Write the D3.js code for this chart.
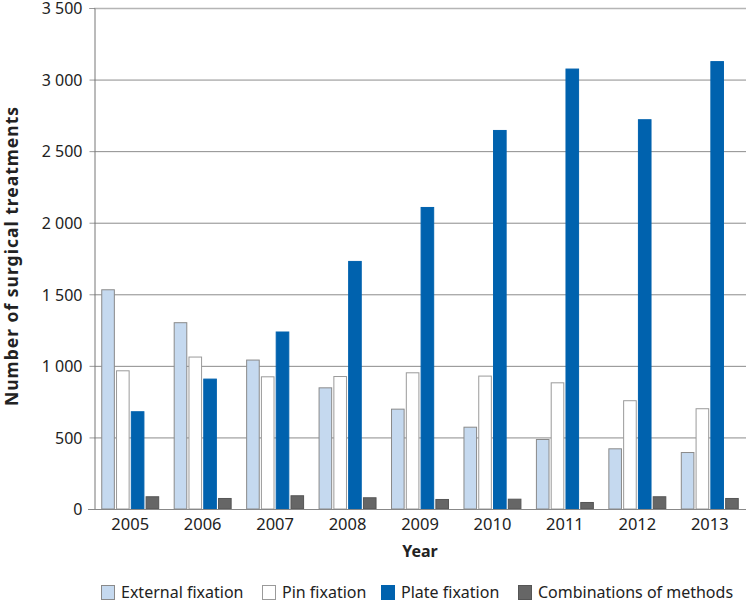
<!DOCTYPE html>
<html>
<head>
<meta charset="utf-8">
<script src="https://cdn.jsdelivr.net/npm/d3@7/dist/d3.min.js"></script>
<style>
  body { margin: 0; background: #fff; }
  text { font-family: "Noto Sans", "Open Sans", sans-serif; fill: #222; }
</style>
</head>
<body>
<div id="viz"></div>
<script>
// values
var years = ["2005", "2006", "2007", "2008", "2009", "2010", "2011", "2012", "2013"];
var seriesNames = ["External fixation", "Pin fixation", "Plate fixation", "Combinations of methods"];
var external = [1535, 1305, 1044, 850, 701, 575, 489, 424, 398];
var pin = [969, 1065, 927, 929, 955, 932, 885, 760, 704];
var plate = [683, 911, 1240, 1733, 2110, 2648, 3077, 2723, 3129];
var combos = [89, 77, 96, 82, 70, 72, 49, 89, 77];
var yTicks = [0, 500, 1000, 1500, 2000, 2500, 3000, 3500];

var fills = ["#c5d9ef", "#ffffff", "#0062ae", "#666666"];
var strokes = ["#8a8a8a", "#9a9a9a", "#0062ae", "#555555"];

var W = 750, H = 602;
var mLeft = 94, mRight = 746, mTop = 8, mBottom = 509;

var svg = d3.select("#viz").append("svg").attr("width", W).attr("height", H);

var x = d3.scaleBand().domain(years).range([mLeft, mRight]).paddingInner(0.2).paddingOuter(0.1);
var y = d3.scaleLinear().domain([0, 3500]).range([mBottom, mTop]);
var xs = d3.scaleBand().domain(d3.range(4)).range([0, x.bandwidth()]).paddingInner(0.08);

// gridlines
svg.append("g").selectAll("line").data(yTicks.slice(1)).join("line")
  .attr("x1", mLeft).attr("x2", mRight)
  .attr("y1", d => y(d) + 0.5).attr("y2", d => y(d) + 0.5)
  .style("stroke", d => d == 3500 ? "#b5b5b5" : "#8c8c8c")
  .style("stroke-width", d => d == 3500 ? 1.5 : 1);

// y axis
var yAxis = svg.append("g").attr("transform", "translate(" + (mLeft + 0.5) + ",0)")
  .call(d3.axisLeft(y).tickValues(yTicks).tickSize(5).tickPadding(7)
    .tickFormat(d => d >= 1000 ? Math.floor(d / 1000) + " " + d3.format("03")(d % 1000) : d));
yAxis.select(".domain").style("stroke", "#777");
yAxis.selectAll(".tick line").style("stroke", "#999");
yAxis.selectAll(".tick text").style("font-size", "16px").style("fill", "#222")
  .style("font-family", "'Noto Sans', sans-serif").attr("dy", "0.36em");

var data = [external, pin, plate, combos];

years.forEach(function (yr, i) {
  var g = svg.append("g").attr("transform", "translate(" + x(yr) + ",0)");
  g.selectAll("rect").data(data.map((s, k) => ({ k: k, v: s[i] }))).join("rect")
    .attr("x", d => xs(d.k) + 0.5)
    .attr("width", xs.bandwidth() - 1)
    .attr("y", d => y(d.v) + 0.5)
    .attr("height", d => mBottom - y(d.v) - 0.5)
    .style("fill", d => fills[d.k])
    .style("stroke", d => strokes[d.k])
    .style("stroke-width", 1);
});

// x axis line
svg.append("line").attr("x1", mLeft - 6).attr("x2", mRight)
  .attr("y1", mBottom + 0.5).attr("y2", mBottom + 0.5).style("stroke", "#888");

var xAxis = svg.append("g").attr("transform", "translate(0," + mBottom + ")")
  .call(d3.axisBottom(x).tickSize(0).tickPadding(9));
xAxis.select(".domain").remove();
xAxis.selectAll(".tick text").style("font-size", "16.5px").style("fill", "#222")
  .style("font-family", "'Noto Sans', sans-serif");

// axis titles
svg.append("text").attr("x", (mLeft + mRight) / 2).attr("y", 557)
  .attr("text-anchor", "middle").style("font-size", "16px").style("font-weight", "bold")
  .text("Year");
svg.append("text").attr("transform", "translate(18," + 256 + ") rotate(-90)")
  .attr("text-anchor", "middle").style("font-size", "17.5px").style("font-weight", "bold")
  .style("letter-spacing", "1px")
  .text("Number of surgical treatments");

// legend
var legX = [101, 262, 381, 518];
var leg = svg.append("g").selectAll("g").data(seriesNames).join("g")
  .attr("transform", (d, i) => "translate(" + legX[i] + ",585)");
leg.append("rect").attr("width", 13).attr("height", 14).attr("x", 0.5).attr("y", 0.5)
  .style("fill", (d, i) => fills[i]).style("stroke", (d, i) => strokes[i]);
leg.append("text").attr("x", 20).attr("y", 13).style("font-size", "16px").text(d => d);
</script>
</body>
</html>
